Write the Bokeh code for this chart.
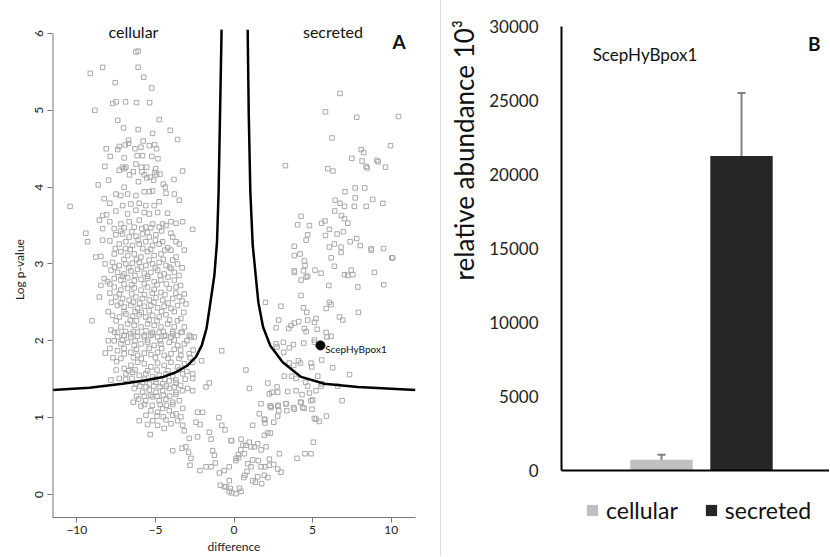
from bokeh.plotting import figure
from bokeh.models import Range1d, Label, Legend, LegendItem, FixedTicker, Whisker, TeeHead, ColumnDataSource
from bokeh.layouts import row
from bokeh.core.properties import value
from bokeh.embed import file_html
from bokeh.resources import INLINE
import math

# ---------------- Panel A data (difference, log p-value) ----------------
left_upper = [
    (-6.24,5.76),(-6.1,5.77),(-8.36,5.56),(-9.15,5.48),(-6.1,5.56),(-5.75,5.43),(-7.56,5.36),(-5.24,5.29),
    (-7.72,5.09),(-7.5,5.11),(-6.9,5.11),(-6.2,5.1),(-5.37,5.1),(-8.85,5.0),(-7.4,4.87),(-4.76,4.88),
    (-7.03,4.77),(-6.1,4.75),(-5.18,4.7),(-4.06,4.74),(-3.59,4.62),(-6.71,4.61),(-6.71,4.57),(-5.78,4.6),
    (-8.13,4.5),(-7.3,4.53),(-7.4,4.49),(-6.92,4.55),(-6.3,4.5),(-5.92,4.52),(-5.39,4.54),(-5.05,4.55),
    (-4.93,4.5),(-7.88,4.4),(-6.99,4.38),(-6.16,4.41),(-5.82,4.41),(-5.23,4.4),(-4.84,4.37),(-8.22,4.27),
    (-7.1,4.26),(-6.88,4.26),(-6.24,4.3),(-7.3,4.22),(-6.99,4.24),(-5.9,4.26),(-5.56,4.26),(-4.99,4.24),
    (-3.27,4.21),(-6.41,4.2),(-6.65,4.16),(-5.86,4.2),(-5.7,4.16),(-5.05,4.19),(-4.71,4.17),(-4.93,4.16),
    (-8.64,4.03),(-7.98,4.09),(-6.99,4.0),(-6.08,4.07),(-5.55,4.12),(-5.12,4.09),(-5.33,4.13),(-4.5,4.04),
    (-4.37,4.0),(-3.82,4.1),
]
left_middle = [
    (-8.26,3.85),(-7.52,3.91),(-7.2,3.89),(-6.77,3.91),(-6.24,3.89),(-5.71,3.94),(-5.39,3.94),(-5.18,3.95),
    (-4.33,3.92),(-3.8,3.91),(-3.48,3.83),(-10.43,3.75),(-7.9,3.79),(-7.09,3.76),(-6.56,3.78),(-6.03,3.79),
    (-5.61,3.76),(-5.08,3.76),(-4.76,3.81),(-7.52,3.69),(-6.77,3.65),(-6.24,3.7),(-5.71,3.67),(-5.39,3.65),
    (-4.86,3.67),(-4.23,3.66),(-8.36,3.63),(-8.11,3.64),(-8.57,3.57),(-7.9,3.55),(-7.2,3.52),(-6.67,3.55),
    (-6.03,3.57),(-5.61,3.48),(-5.18,3.52),(-4.54,3.52),(-4.01,3.55),(-3.69,3.53),(-3.27,3.55),(-8.36,3.46),
    (-7.62,3.46),(-6.99,3.47),(-6.35,3.48),(-5.86,3.46),(-5.29,3.47),(-4.76,3.48),(-4.33,3.5),(-4.01,3.4),
    (-9.43,3.4),(-9.32,3.29),(-8.36,3.31),(-2.63,3.45),(-7.52,3.38),(-7.09,3.39),(-6.67,3.35),(-6.24,3.36),
    (-5.82,3.39),(-5.39,3.35),(-4.97,3.38),(-4.54,3.29),(-3.9,3.35),(-3.69,3.29),(-7.3,3.26),(-6.88,3.29),
    (-6.46,3.24),(-6.03,3.26),(-5.61,3.29),(-5.18,3.24),(-4.76,3.26),(-4.22,3.21),(-3.48,3.26),(-3.16,3.18),
    (-8.79,3.09),(-8.47,3.1),(-7.62,3.13),(-7.2,3.16),(-6.77,3.11),(-6.35,3.13),(-5.92,3.09),(-5.5,3.16),
    (-5.08,3.11),(-4.65,3.13),(-4.01,3.18),(-3.69,3.09),(-7.73,3.02),(-7.3,2.98),(-6.88,3.0),(-6.46,3.01),
    (-6.03,3.02),(-5.61,2.98),(-5.18,3.0),(-4.76,3.02),(-4.33,2.98),(-4.01,2.94),(-3.59,3.0),(-7.83,2.92),
    (-7.41,2.89),(-6.99,2.87),(-6.56,2.91),(-6.14,2.93),(-5.71,2.88),(-5.29,2.89),(-4.86,2.92),(-4.44,2.87),
    (-3.8,2.89),(-8.26,2.81),(-8.05,2.77),(-8.47,2.72),(-7.62,2.81),(-7.2,2.79),(-6.77,2.82),(-6.35,2.78),
    (-5.92,2.8),(-5.5,2.81),(-5.08,2.77),(-4.65,2.79),(-3.8,2.79),(-3.69,2.7),(-7.62,2.7),(-7.2,2.66),
    (-6.77,2.68),(-6.35,2.69),(-5.92,2.66),(-5.5,2.7),(-5.08,2.67),(-4.65,2.63),(-4.12,2.68),(-3.16,2.61),
    (-8.57,2.57),(-7.52,2.57),(-7.09,2.55),(-6.67,2.53),(-6.24,2.57),(-5.82,2.55),(-5.39,2.53),(-4.97,2.56),
    (-4.54,2.53),(-3.9,2.55),(-3.48,2.57),(-3.06,2.48),(-7.41,2.46),(-6.99,2.44),(-6.56,2.46),(-6.14,2.42),
    (-5.71,2.45),(-5.29,2.46),(-4.86,2.43),(-4.44,2.45),(-4.01,2.42),(-3.59,2.46),(-7.73,2.33),(-7.3,2.31),
    (-6.88,2.35),(-6.46,2.32),(-6.03,2.34),(-5.61,2.31),(-5.18,2.33),(-4.76,2.31),(-4.33,2.34),(-3.38,2.29),
    (-9.04,2.26),(-7.83,2.14),(-7.2,2.18),(-6.77,2.22),(-6.35,2.2),(-5.92,2.18),(-5.5,2.22),(-5.08,2.2),
    (-4.65,2.18),(-4.22,2.22),(-3.8,2.18),(-3.16,2.18),(-2.74,2.05),(-7.41,2.05),(-6.99,2.07),(-6.56,2.05),
    (-6.14,2.06),(-5.71,2.05),(-5.29,2.07),(-4.86,2.05),(-4.44,2.06),(-4.01,2.05),(-3.59,2.07),
]
left_core = [
    (-7.2,3.43),(-6.5,3.42),(-5.5,3.41),(-4.6,3.43),(-6.1,3.31),(-5.0,3.31),(-7.9,3.3),
    (-7.55,3.2),(-6.6,3.19),(-5.8,3.2),(-5.3,3.19),(-4.4,3.18),(-6.9,3.2),
    (-7.0,3.06),(-6.2,3.06),(-5.4,3.05),(-4.5,3.06),(-3.9,3.05),(-8.2,3.0),
    (-7.6,2.96),(-6.7,2.95),(-5.9,2.96),(-5.0,2.95),(-4.1,2.96),(-3.3,2.95),
    (-7.1,2.84),(-6.3,2.85),(-5.5,2.84),(-4.7,2.85),(-4.2,2.83),(-3.5,2.85),
    (-7.9,2.74),(-7.0,2.74),(-6.5,2.73),(-5.7,2.74),(-4.9,2.73),(-4.3,2.74),(-3.4,2.72),
    (-7.9,2.62),(-7.3,2.61),(-6.5,2.61),(-5.7,2.6),(-5.2,2.62),(-4.4,2.6),(-3.7,2.62),
    (-7.8,2.5),(-7.2,2.49),(-6.4,2.5),(-6.0,2.49),(-5.1,2.5),(-4.2,2.49),(-3.3,2.52),
    (-8.0,2.38),(-7.0,2.38),(-6.3,2.38),(-5.9,2.37),(-5.4,2.39),(-4.6,2.38),(-3.8,2.38),(-3.2,2.37),
    (-7.5,2.26),(-6.6,2.27),(-6.2,2.26),(-5.4,2.27),(-4.9,2.26),(-4.1,2.27),(-3.6,2.26),
    (-7.6,2.11),(-6.9,2.12),(-6.4,2.12),(-5.6,2.13),(-5.2,2.11),(-4.5,2.12),(-3.9,2.12),(-3.3,2.11),
    (-8.0,2.0),(-7.1,2.01),(-6.3,2.0),(-5.5,2.01),(-4.7,2.0),(-3.8,2.01),(-3.0,2.0),
    (-7.9,1.9),(-7.0,1.9),(-6.2,1.89),(-5.4,1.9),(-4.6,1.9),(-3.8,1.89),(-3.4,1.88),(-2.6,1.88),
    (-7.7,1.78),(-7.2,1.77),(-6.4,1.78),(-5.9,1.77),(-5.0,1.78),(-4.2,1.77),(-3.5,1.77),(-2.8,1.78),
    (-7.5,1.62),(-6.7,1.61),(-6.3,1.62),(-5.5,1.61),(-4.9,1.62),(-4.2,1.61),(-3.5,1.62),(-3.0,1.6),
    (-6.9,1.5),(-6.5,1.51),(-5.7,1.5),(-5.0,1.5),(-4.4,1.5),(-3.7,1.49),(-3.1,1.5),
    (-6.0,1.41),(-5.6,1.4),(-5.1,1.41),(-4.7,1.4),(-4.3,1.41),(-3.8,1.4),(-3.4,1.42),
    (-6.2,1.28),(-5.7,1.28),(-5.3,1.29),(-4.9,1.28),(-4.5,1.29),(-4.1,1.28),(-3.7,1.3),
    (-5.7,1.17),(-5.2,1.16),(-4.7,1.17),(-4.3,1.16),(-3.9,1.17),
    (-5.6,1.03),(-4.9,1.02),(-4.5,1.01),(-3.9,1.03),
]
left_lower = [
    (-7.41,2.11),(-6.99,2.07),(-6.56,2.09),(-6.14,2.11),(-5.71,2.07),(-5.18,2.09),(-4.76,2.11),(-4.33,2.07),
    (-3.9,2.09),(-3.38,2.11),(-2.85,2.07),(-2.53,2.05),(-7.62,2.0),(-7.2,1.96),(-6.77,1.98),(-6.35,1.94),
    (-5.92,1.96),(-5.5,1.98),(-5.08,1.94),(-4.65,1.96),(-4.12,1.98),(-3.59,1.94),(-3.16,1.96),(-8.19,1.84),
    (-7.41,1.87),(-6.99,1.83),(-6.56,1.85),(-6.14,1.81),(-5.71,1.84),(-5.29,1.82),(-4.86,1.85),(-4.44,1.81),
    (-4.01,1.83),(-3.38,1.81),(-2.85,1.83),(-0.78,1.87),(-7.47,1.73),(-6.99,1.64),(-6.56,1.68),(-6.14,1.72),
    (-5.71,1.7),(-5.29,1.66),(-4.86,1.71),(-4.44,1.68),(-4.01,1.72),(-3.59,1.66),(-3.16,1.7),(-2.63,1.72),
    (-2.06,1.74),(-6.88,1.57),(-6.46,1.59),(-6.03,1.55),(-5.61,1.57),(-5.18,1.53),(-4.76,1.55),(-4.33,1.57),
    (-3.9,1.53),(-3.27,1.57),(-2.63,1.57),(-7.83,1.49),(-7.3,1.51),(-2.63,1.51),(-6.24,1.44),(-5.82,1.46),
    (-5.39,1.44),(-4.97,1.46),(-4.54,1.44),(-4.12,1.48),(-3.69,1.45),(-6.35,1.38),(-5.82,1.33),(-5.39,1.36),
    (-4.97,1.33),(-4.54,1.35),(-4.12,1.38),(-3.69,1.33),(-3.27,1.35),(-2.95,1.38),(-2.63,1.35),(-1.57,1.45),
    (-1.78,1.4),(-6.41,1.2),(-6.07,1.24),(-5.61,1.22),(-5.18,1.27),(-4.76,1.22),(-4.33,1.24),(-3.9,1.2),
    (-3.48,1.22),(-3.27,1.12),(-5.92,1.15),(-5.29,1.09),(-4.86,1.07),(-4.54,1.12),(-4.12,1.09),(-3.69,1.05),
    (-2.32,1.07),(-2.0,1.07),(-6.03,0.96),(-5.5,0.91),(-5.18,0.96),(-4.86,0.9),(-4.33,0.97),(-4.01,0.92),
    (-3.59,0.96),(-3.38,1.01),(-3.27,0.9),(-2.42,0.94),(-2.16,0.91),(-5.33,0.78),(-4.44,0.86),(-3.16,0.83),
    (-2.85,0.73),(-2.32,0.75),(-1.57,0.81),(-1.46,0.72),(-0.78,0.9),(-0.57,0.84),(-0.19,0.7),(0.45,0.72),
    (-3.9,0.57),(-3.31,0.6),(-3.06,0.62),(-2.89,0.55),(-1.36,0.57),(-2.74,0.47),(-1.25,0.51),(0.3,0.48),
    (0.66,0.53),(-2.8,0.38),(-2.17,0.31),(-1.78,0.36),(-1.46,0.36),(-1.19,0.41),(-0.93,0.28),(-0.62,0.31),
    (-0.3,0.36),(-0.96,1.0),
]
center_low = [
    (1.19,0.9),(1.72,1.18),(2.31,1.15),(2.36,1.13),(2.82,1.16),(2.85,1.09),(3.31,1.18),(3.36,1.09),
    (3.8,1.13),(4.27,1.2),(4.48,1.12),(4.9,1.22),(1.61,1.05),(1.97,0.97),(1.97,0.93),(2.53,0.94),
    (5.11,0.99),(5.43,0.95),(5.88,1.02),(1.93,0.77),(2.15,0.8),(2.31,0.8),(1.08,0.62),(1.29,0.62),
    (1.51,0.66),(0.97,0.68),(0.76,0.64),(1.72,0.58),(2.04,0.62),(2.89,0.53),(5.05,0.68),(4.01,0.47),
    (4.52,0.53),(4.9,0.53),(1.19,0.45),(1.55,0.44),(2.25,0.46),(2.53,0.39),(2.78,0.33),(2.99,0.29),
    (0.87,0.4),(0.83,0.3),(1.08,0.36),(1.72,0.36),(1.97,0.36),(2.25,0.38),(1.93,0.25),(2.15,0.22),
    (1.51,0.23),(1.36,0.16),(1.76,0.14),(1.19,0.18),(-0.87,0.12),(-0.51,0.1),(-0.24,0.08),(-0.3,0.04),
    (-0.15,0.02),(0.13,0.01),(0.34,0.08),(0.45,0.04),(-0.3,0.18),(-0.62,0.1),(0.62,0.22),(0.7,0.25),
    (0.13,0.47),(0.28,0.52),(0.43,0.58),(0.57,0.64),(-0.15,0.7),(0.13,0.44),
]
right_side = [
    (6.75,5.22),(5.82,4.98),(7.81,4.91),(10.47,4.92),(6.24,4.64),(9.96,4.54),(8.09,4.49),(8.26,4.45),
    (3.27,4.28),(7.5,4.375),(8.15,4.34),(8.41,4.27),(8.47,4.25),(9.09,4.35),(9.17,4.33),(9.64,4.26),
    (5.97,4.24),(6.3,4.21),(7.07,3.94),(7.71,3.99),(8.32,3.99),(7.71,3.86),(6.43,3.83),(6.75,3.79),
    (7.03,3.75),(7.66,3.75),(8.41,3.75),(8.83,3.84),(9.47,3.79),(6.41,3.69),(6.84,3.63),(7.03,3.59),
    (7.24,3.53),(4.27,3.62),(4.05,3.51),(4.8,3.5),(5.58,3.53),(5.79,3.56),(4.69,3.38),(4.59,3.31),
    (3.84,3.23),(5.82,3.37),(6.07,3.45),(6.56,3.39),(6.96,3.42),(7.39,3.29),(7.81,3.33),(8.03,3.24),
    (8.73,3.2),(6.07,3.22),(6.39,3.26),(6.81,3.22),(10.04,3.08),(9.51,3.2),(3.84,3.11),(3.84,2.91),
    (4.52,2.98),(4.2,3.13),(4.48,3.04),(6.18,3.08),(6.82,3.15),(8.73,3.18),(10.1,3.08),(3.84,2.89),
    (4.42,2.91),(4.69,2.84),(4.59,2.83),(5.16,2.92),(5.54,2.88),(6.39,2.97),(7.03,2.86),(7.24,2.85),
    (7.45,2.92),(7.56,2.86),(8.94,2.89),(9.53,2.73),(7.88,2.7),(6.03,2.72),(4.27,2.79),(4.27,2.59),
    (2.0,2.5),(2.99,2.45),(4.42,2.43),(4.63,2.37),(6.07,2.5),(6.18,2.47),(5.86,2.42),(7.92,2.37),
    (6.71,2.31),(6.92,2.27),(2.84,2.27),(3.84,2.23),(3.63,2.2),(3.48,2.16),(4.12,2.25),(4.69,2.27),
    (5.22,2.29),(5.12,2.24),(2.68,2.17),(4.48,2.16),(4.59,2.12),(5.29,2.15),(5.86,2.11),(6.18,2.06),
    (5.92,2.05),(2.68,1.96),(3.14,1.98),(2.74,1.92),(3.52,1.91),(3.78,1.95),(4.44,1.97),(5.12,2.01),
    (5.12,1.98),(0.76,1.62),(3.16,1.85),(3.52,1.71),(3.8,1.68),(4.1,1.74),(4.23,1.71),(4.9,1.71),
    (4.95,1.66),(5.58,1.75),(6.28,1.65),(5.33,1.54),(5.54,1.41),(7.35,1.56),(6.6,1.41),(6.88,1.22),
    (3.2,1.54),(3.67,1.54),(3.95,1.51),(4.55,1.46),(4.69,1.41),(4.8,1.32),(5.01,1.23),(5.6,1.44),
    (5.22,1.35),(0.98,1.38),(2.15,1.45),(2.25,1.31),(2.42,1.33),(2.74,1.4),(2.78,1.33),(3.42,1.34),
    (3.95,1.35),(4.33,1.3),(4.23,1.2),(2.32,1.15),(2.78,1.15),(3.31,1.18),(3.84,1.11),(4.37,1.13),
    (4.97,1.11),(1.93,0.98),(2.78,1.02),(5.22,0.98),
]
all_points = left_upper + left_middle + left_core + left_lower + center_low + right_side
difference = [p[0] for p in all_points]
log_p = [p[1] for p in all_points]

# significance threshold curve
curve_left_x = [-11.55, -9.2, -7.1, -5.8, -4.5, -3.7, -2.95, -2.42, -2.05, -1.75, -1.5, -1.25, -1.08, -0.98, -0.89, -0.79]
curve_left_y = [1.36, 1.39, 1.44, 1.48, 1.53, 1.59, 1.68, 1.79, 1.94, 2.16, 2.5, 2.85, 3.29, 3.94, 4.93, 6.05]
curve_right_x = [0.87, 0.94, 1.04, 1.19, 1.38, 1.55, 1.85, 2.3, 3.1, 4.27, 5.75, 7.88, 11.55]
curve_right_y = [6.05, 4.93, 3.94, 3.25, 2.85, 2.5, 2.18, 1.94, 1.72, 1.53, 1.44, 1.4, 1.36]

highlight_x = [5.5]
highlight_y = [1.94]
highlight_name = "ScepHyBpox1"

x_ticks_a = [-10, -5, 0, 5, 10]
y_ticks_a = [0, 1, 2, 3, 4, 5, 6]

# ---------------- Panel B data ----------------
groups = ["cellular", "secreted"]
group_pos = [0, 1]
abundance = [720, 21250]
abundance_err = [340, 4250]
bar_colors = ["#bfbfbf", "#262626"]
y_ticks_b = [0, 5000, 10000, 15000, 20000, 25000, 30000]
y_title_b = "relative abundance 10³"

FONT = "Lato"
INK = "#111111"

# ---------------- Panel A ----------------
XA0, XA1 = -11.55, 11.55
YA0, YA1 = -0.3, 6.156
p1 = figure(title=None, frame_width=363, frame_height=496,
            x_range=Range1d(XA0, XA1), y_range=Range1d(YA0, YA1),
            min_border_left=52, min_border_right=25, min_border_top=21, min_border_bottom=38,
            output_backend="svg", toolbar_location=None)
p1.outline_line_color = None
p1.grid.visible = False

p1.scatter(difference, log_p, marker="square", size=4.5, fill_color=None,
           line_color="#a9a9a9", line_width=1)
p1.line(curve_left_x, curve_left_y, line_color="black", line_width=2.5)
p1.line(curve_right_x, curve_right_y, line_color="black", line_width=2.5)
p1.scatter(highlight_x, highlight_y, marker="circle", size=9, fill_color="black", line_color="black")
p1.add_layout(Label(x=highlight_x[0] + 0.3, y=highlight_y[0] - 0.05, text=highlight_name,
                    text_font=FONT, text_font_size="10px", text_baseline="middle", text_align="left",
                    text_color=INK))

# left axis line only from the bottom up to the top tick (R "l" box)
p1.segment(x0=[XA0], y0=[YA0], x1=[XA0], y1=[y_ticks_a[-1]], line_color="#777777", line_width=2)

for ax in (p1.xaxis[0], p1.yaxis[0]):
    ax.major_tick_line_color = "#777777"
    ax.minor_tick_line_color = None
    ax.major_tick_out = 5
    ax.major_tick_in = 0
    ax.major_label_text_font = FONT
    ax.major_label_text_font_size = "12px"
    ax.major_label_text_color = "#222222"
    ax.axis_label_text_font = FONT
    ax.axis_label_text_font_size = "12px"
    ax.axis_label_text_font_style = "normal"
    ax.axis_label_text_color = "#222222"

p1.xaxis.axis_line_color = "#777777"
p1.yaxis.axis_line_color = None
p1.xaxis.ticker = FixedTicker(ticks=x_ticks_a)
p1.xaxis.axis_label = "difference"
p1.xaxis.major_label_standoff = 3
p1.xaxis.axis_label_standoff = 2
p1.yaxis.ticker = FixedTicker(ticks=y_ticks_a)
p1.yaxis.axis_label = "Log p-value"
p1.yaxis.major_label_orientation = "vertical"
p1.yaxis.major_label_standoff = 4
p1.yaxis.axis_label_standoff = 6

p1.add_layout(Label(x=-6.4, y=6.02, text="cellular", text_font=FONT, text_font_size="16px",
                    text_align="center", text_baseline="middle", text_color=INK))
p1.add_layout(Label(x=6.3, y=6.02, text="secreted", text_font=FONT, text_font_size="16px",
                    text_align="center", text_baseline="middle", text_color=INK))
p1.add_layout(Label(x=10.5, y=5.89, text="A", text_font=FONT, text_font_size="19px",
                    text_font_style="bold", text_align="center", text_baseline="middle",
                    text_color=INK))

# ---------------- strip holding panel B's value-axis title ----------------
ps = figure(title=None, width=46, height=556, x_range=Range1d(0, 1), y_range=Range1d(0, 1),
            min_border_left=0, min_border_right=0, min_border_top=0, min_border_bottom=0,
            x_axis_location=None, y_axis_location=None,
            output_backend="svg", toolbar_location=None)
ps.outline_line_color = None
ps.grid.visible = False
ps.styles = {"border-left": "1px solid #dcdcdc"}
ps.text(x=[0.48], y=[0.741], text=[y_title_b], angle=math.pi / 2,
        text_font=value(FONT), text_font_size=value("26px"), text_color=INK,
        text_align="center", text_baseline="middle")

# ---------------- Panel B ----------------
XB0, XB1 = -1.30, 2.10
YB0, YB1 = -5878, 30338
p2 = figure(title=None, frame_width=272, frame_height=536,
            x_range=Range1d(XB0, XB1), y_range=Range1d(YB0, YB1),
            min_border_left=71, min_border_right=0, min_border_top=18, min_border_bottom=0,
            x_axis_location=None,
            output_backend="svg", toolbar_location=None)
p2.outline_line_color = None
p2.grid.visible = False

axis_x = -1.25
src = ColumnDataSource(dict(x=group_pos, top=abundance,
                            upper=[a + e for a, e in zip(abundance, abundance_err)],
                            lower=[a - e for a, e in zip(abundance, abundance_err)]))
renderers = []
for i in range(len(groups)):
    r = p2.vbar(x=[group_pos[i]], top=[abundance[i]], width=0.78, bottom=0,
                fill_color=bar_colors[i], line_color=None)
    renderers.append(r)

p2.add_layout(Whisker(base="x", upper="upper", lower="lower", source=src,
                      line_color="#808080", line_width=2,
                      upper_head=TeeHead(size=8, line_color="#808080", line_width=2),
                      lower_head=TeeHead(size=8, line_color="#808080", line_width=2)))

# axis lines of the bar chart (value axis from 0 to the top tick, category axis at 0)
p2.segment(x0=[axis_x], y0=[0], x1=[axis_x], y1=[y_ticks_b[-1]], line_color="black", line_width=2)
p2.segment(x0=[axis_x], y0=[0], x1=[XB1], y1=[0], line_color="black", line_width=2)

p2.yaxis.ticker = FixedTicker(ticks=y_ticks_b)
p2.yaxis.axis_line_color = None
p2.yaxis.major_tick_line_color = None
p2.yaxis.minor_tick_line_color = None
p2.yaxis.major_label_standoff = 13
p2.yaxis.major_label_text_font = FONT
p2.yaxis.major_label_text_font_size = "17px"
p2.yaxis.major_label_text_color = "#222222"

p2.add_layout(Label(x=-0.86, y=28100, text=highlight_name, text_font=FONT, text_font_size="17px",
                    text_align="left", text_baseline="middle", text_color=INK))
p2.add_layout(Label(x=1.91, y=28850, text="B", text_font=FONT, text_font_size="19px",
                    text_font_style="bold", text_align="center", text_baseline="middle",
                    text_color=INK))

legend = Legend(items=[LegendItem(label=groups[i], renderers=[renderers[i]]) for i in range(len(groups))],
                orientation="horizontal", location=(28, 18),
                label_text_font=FONT, label_text_font_size="23px", label_text_color=INK,
                glyph_width=14, glyph_height=14, spacing=26, label_standoff=7,
                border_line_color=None, background_fill_alpha=0, padding=0, margin=0)
p2.add_layout(legend, "center")

layout = row(p1, ps, p2)
open("out.html", "w").write(file_html(layout, INLINE))
